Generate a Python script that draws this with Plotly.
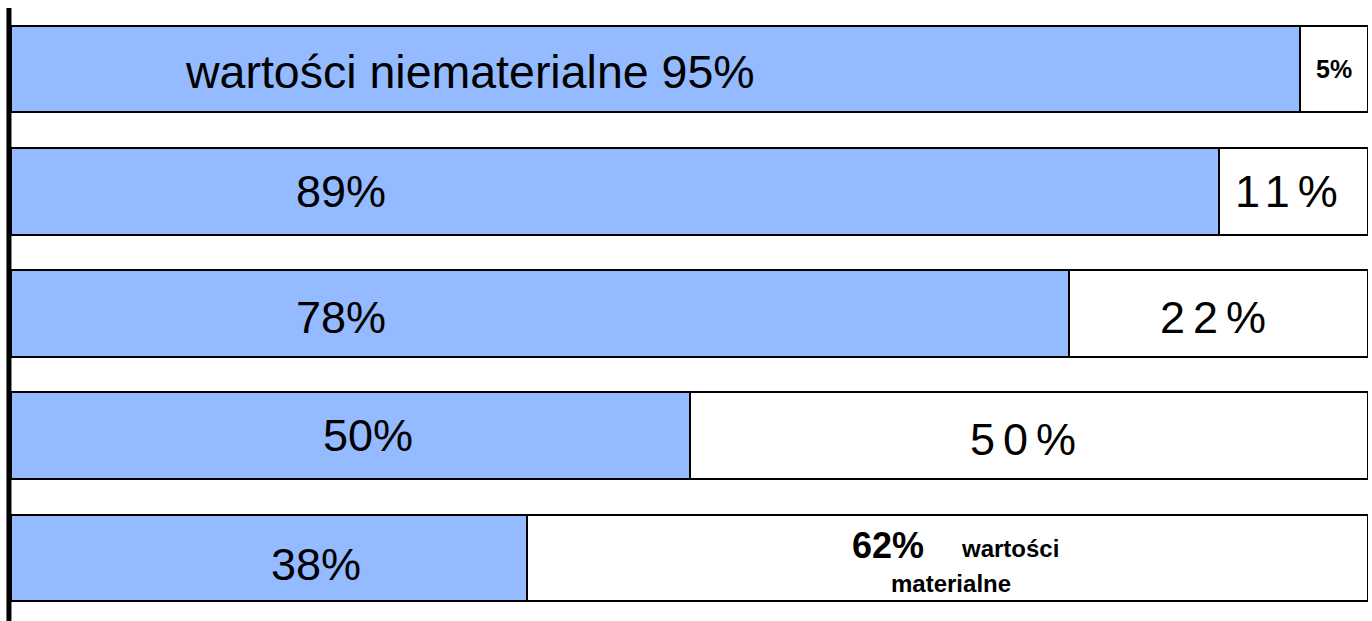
import plotly.graph_objects as go

# ---- data ----
rows = [0, 1, 2, 3, 4]
intangible = [95, 89, 78, 50, 38]   # wartości niematerialne (%)
tangible = [5, 11, 22, 50, 62]      # wartości materialne (%)
first_label_prefix = "wartości niematerialne "
tangible_caption = ["wartości", "materialne"]

BLUE = "#94BAFF"
FONT = "Liberation Sans, Arial, sans-serif"

fig = go.Figure()
fig.add_trace(go.Bar(
    y=rows, x=intangible, orientation="h", width=0.71,
    marker=dict(color=BLUE, line=dict(color="black", width=2)),
    hoverinfo="skip", showlegend=False,
))
fig.add_trace(go.Bar(
    y=rows, x=tangible, orientation="h", width=0.71,
    marker=dict(color="white", line=dict(color="black", width=2)),
    hoverinfo="skip", showlegend=False,
))

# label placement (layout only)
left_x = [33.8, 24.3, 24.3, 26.3, 22.5]
left_dy = [0.02, 0.0, 0.03, 0.0, 0.05]
left_size = [46.5, 45, 45, 45, 45]
right_x = [97.5, 94.3, 88.9, 74.9, 64.6]
right_dy = [0.0, 0.0, 0.03, 0.03, -0.105]

ann = []
for i, v in enumerate(intangible):
    txt = (first_label_prefix if i == 0 else "") + f"{v}%"
    ann.append(dict(x=left_x[i], y=rows[i] + left_dy[i], text=txt, showarrow=False,
                    xref="x", yref="y", font=dict(family=FONT, size=left_size[i], color="black")))
for i, v in enumerate(tangible):
    if i == 0:
        txt = f'<b>{v}%</b>'
        size = 25
    elif i == len(tangible) - 1:
        txt = f"<b>{v}%</b>"
        size = 36
    else:
        txt = f'<span style="letter-spacing:8px">{v}%</span>'
        size = 45
    ann.append(dict(x=right_x[i], y=rows[i] + right_dy[i], text=txt, showarrow=False,
                    xref="x", yref="y", font=dict(family=FONT, size=size, color="black")))
ann.append(dict(x=73.6, y=rows[4] - 0.08, text=f"<b>{tangible_caption[0]}</b>", showarrow=False,
                xref="x", yref="y", font=dict(family=FONT, size=24, color="black")))
ann.append(dict(x=69.3, y=rows[4] + 0.213, text=f"<b>{tangible_caption[1]}</b>", showarrow=False,
                xref="x", yref="y", font=dict(family=FONT, size=24, color="black")))

fig.update_layout(
    width=1372, height=621,
    margin=dict(l=11, r=4, t=8, b=2),
    barmode="stack", bargap=0.29,
    plot_bgcolor="white", paper_bgcolor="white",
    xaxis=dict(range=[0, 100], visible=False, fixedrange=True),
    yaxis=dict(range=[4.5, -0.5], visible=False, fixedrange=True),
    annotations=ann,
    shapes=[dict(type="line", xref="paper", yref="paper", x0=-0.0015, x1=-0.0015,
                 y0=-0.01, y1=1.0, line=dict(color="black", width=5))],
)

fig.write_html("out.html", config={"displayModeBar": False},
               post_script="document.body.style.margin='0';document.body.style.overflow='hidden';")
